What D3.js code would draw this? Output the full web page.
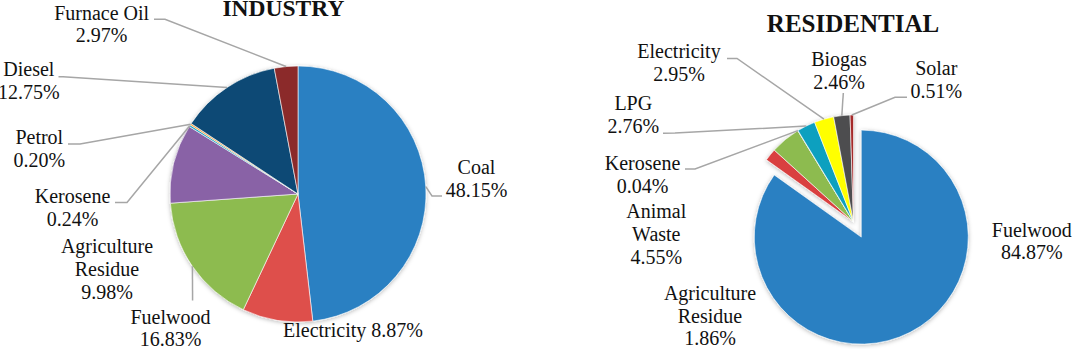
<!DOCTYPE html>
<html>
<head>
<meta charset="utf-8">
<script src="https://cdn.jsdelivr.net/npm/d3@7"></script>
<style>
html,body{margin:0;padding:0;background:#fff;}
svg{display:block;}
</style>
</head>
<body>
<script>
// ---------- DATA ----------
const industryCategories = ["Coal","Electricity","Fuelwood","Agriculture Residue","Kerosene","Petrol","Diesel","Furnace Oil"];
const industryValues     = [48.15, 8.87, 16.83, 9.98, 0.24, 0.20, 12.75, 2.97];
const industryColors     = ["#2A80C2","#DE4F4C","#8DBB4F","#8962A6","#1AA3C4","#F59A30","#0B4A75","#8B2A2A"];

const residentialCategories = ["Fuelwood","Agriculture Residue","Animal Waste","Kerosene","LPG","Electricity","Biogas","Solar"];
const residentialValues     = [84.87, 1.86, 4.55, 0.04, 2.76, 2.95, 2.46, 0.51];
const residentialColors     = ["#2A80C2","#D9403F","#8DBB4F","#8962A6","#11A0BF","#FFFF00","#4D4D4F","#A52A2A"];

const chartTitles = ["INDUSTRY","RESIDENTIAL"];

// ---------- LAYOUT (label placement, not data) ----------
const industryLabelLayout = {
  "Coal":               {x:476.5, y:174.3, lines:["Coal"], leader:[[442,196],[432,196]]},
  "Electricity":        {x:353,   y:337.3, lines:["Electricity"], inline:true},
  "Fuelwood":           {x:170.5, y:323.5, lines:["Fuelwood"], leader:[[192.6,300.5]]},
  "Agriculture Residue":{x:107,   y:253.3, lines:["Agriculture","Residue"]},
  "Kerosene":           {x:72.5,  y:203.3, lines:["Kerosene"], leader:[[115,202.5],[127,202.5]]},
  "Petrol":             {x:39.3,  y:144,   lines:["Petrol"], leader:[[68,144],[80,144]]},
  "Diesel":             {x:28.8,  y:76.3,  lines:["Diesel"], leader:[[58.5,76.7],[63,76.7]]},
  "Furnace Oil":        {x:101.7, y:19.5,  lines:["Furnace Oil"], leader:[[154,19.3],[165,19.3]]}
};
const residentialLabelLayout = {
  "Fuelwood":           {x:1031.8, y:236.7, lines:["Fuelwood"]},
  "Agriculture Residue":{x:710,    y:300,   lines:["Agriculture","Residue"]},
  "Animal Waste":       {x:656.3,  y:218.3, lines:["Animal","Waste"]},
  "Kerosene":           {x:642.5,  y:170,   lines:["Kerosene"], leader:[[685,169],[695,169]]},
  "LPG":                {x:633.3,  y:110,   lines:["LPG"], leader:[[663,133.3],[675,133]]},
  "Electricity":        {x:679,    y:58.3,  lines:["Electricity"], leader:[[727,58.5],[737,58.5]]},
  "Biogas":             {x:839,    y:66,    lines:["Biogas"], leader:[[843.3,93]]},
  "Solar":              {x:936.3,  y:75,    lines:["Solar"], leader:[[907,97.3],[895,97.3]]}
};

const FONT = "'Liberation Serif', 'Times New Roman', Times, 'DejaVu Serif', serif";
const W = 1072, H = 349;
const svg = d3.select("body").append("svg").attr("width", W).attr("height", H);

const defs = svg.append("defs");
const f = defs.append("filter").attr("id","shadow").attr("x","-20%").attr("y","-20%").attr("width","140%").attr("height","140%");
f.append("feDropShadow").attr("dx",0).attr("dy",1).attr("stdDeviation",2.2).attr("flood-color","#000").attr("flood-opacity",0.28);

const fmt = v => v.toFixed(2) + "%";
const lineH = 22.7;

function drawPie(cfg) {
  const {cx, cy, r, cats, vals, colors, layout, explode} = cfg;
  const items = cats.map((c,i)=>({cat:c, value:vals[i], color:colors[i]}));
  const pie = d3.pie().value(d=>d.value).sort(null).startAngle(0).endAngle(2*Math.PI);
  const arcs = pie(items);
  const arc = d3.arc().innerRadius(0).outerRadius(r);
  const g = svg.append("g").attr("transform", `translate(${cx},${cy})`);
  const slices = g.append("g").attr("filter","url(#shadow)");
  slices.selectAll("path").data(arcs).join("path")
    .attr("d", arc)
    .attr("fill", d=>d.data.color)
    .attr("stroke", "#fff").attr("stroke-width", 0.6)
    .attr("transform", d => {
      const e = explode[d.data.cat] || 0;
      if (!e) return null;
      const m = (d.startAngle + d.endAngle)/2;
      return `translate(${e*Math.sin(m)},${-e*Math.cos(m)})`;
    });

  const lblG = svg.append("g");
  arcs.forEach(d => {
    const L = layout[d.data.cat];
    if (!L) return;
    if (L.leader) {
      const m = (d.startAngle + d.endAngle)/2;
      const end = [cx + r*Math.sin(m), cy - r*Math.cos(m)];
      const pts = L.leader.concat([end]);
      lblG.append("path")
        .attr("d", d3.line()(pts))
        .attr("fill","none").attr("stroke","#A6A6A6").attr("stroke-width",1.5);
    }
    const t = lblG.append("text").attr("text-anchor","middle")
      .attr("font-family", FONT).attr("font-size",20).attr("fill","#111");
    if (L.inline) {
      t.append("tspan").attr("x",L.x).attr("y",L.y).text(L.lines[0] + " " + fmt(d.data.value));
    } else {
      const lines = L.lines.concat([fmt(d.data.value)]);
      lines.forEach((s,i)=>{
        t.append("tspan").attr("x",L.x).attr("y",L.y + i*lineH).text(s);
      });
    }
  });
}

drawPie({cx:298, cy:194, r:128, cats:industryCategories, vals:industryValues, colors:industryColors, layout:industryLabelLayout, explode:{}});
drawPie({cx:853.5, cy:222, r:107, cats:residentialCategories, vals:residentialValues, colors:residentialColors, layout:residentialLabelLayout, explode:{"Fuelwood":17}});

svg.append("text").attr("x",283.4).attr("y",16).attr("text-anchor","middle")
  .attr("font-family", FONT).attr("fill","#111")
  .attr("font-size",23.5).attr("font-weight","bold").text(chartTitles[0]);
svg.append("text").attr("x",853).attr("y",31.7).attr("text-anchor","middle")
  .attr("font-family", FONT).attr("fill","#111")
  .attr("font-size",25).attr("font-weight","bold").text(chartTitles[1]);
</script>
</body>
</html>
